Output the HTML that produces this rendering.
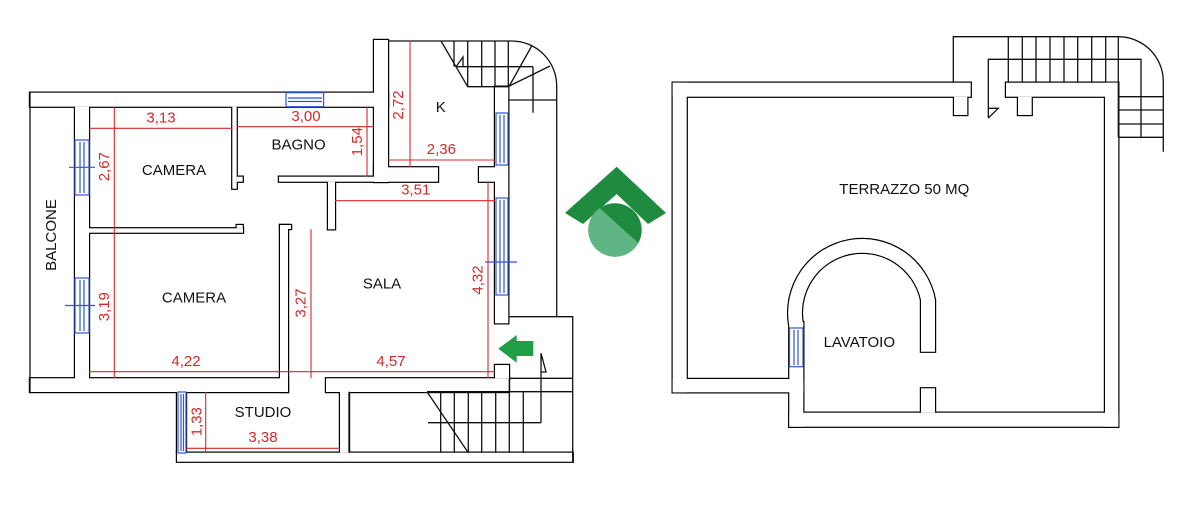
<!DOCTYPE html>
<html><head><meta charset="utf-8"><style>
html,body{margin:0;padding:0;background:#fff;}
svg{display:block;}
text{font-family:"Liberation Sans",Arial,sans-serif;}
.lb{font-size:15px;fill:#111;}
.rd{font-size:15px;fill:#d42a2a;}
</style></head><body>
<svg width="1200" height="516" viewBox="0 0 1200 516" xmlns="http://www.w3.org/2000/svg">
<defs>
<clipPath id="cc"><circle cx="615" cy="230" r="26.7"/></clipPath>
<g id="w">
<rect x="30" y="92.7" width="358" height="14"/>
<rect x="374" y="40" width="14" height="142"/>
<rect x="374" y="167.3" width="64" height="14.4"/>
<rect x="279" y="176.7" width="95" height="5"/>
<rect x="75" y="106.7" width="14" height="272"/>
<rect x="30" y="378.3" width="258" height="13.7"/>
<rect x="232.3" y="106.7" width="4.4" height="82"/>
<rect x="236.7" y="176.7" width="6" height="5"/>
<rect x="89" y="228.3" width="154" height="4.4"/>
<rect x="236.7" y="225" width="6" height="3.3"/>
<rect x="328" y="181.7" width="7" height="47.6"/>
<rect x="280" y="225" width="8" height="167"/>
<rect x="280" y="225" width="11" height="4"/>
<rect x="495" y="86.7" width="13.3" height="236.6"/>
<rect x="479" y="167.3" width="16" height="14.4"/>
<rect x="495" y="365" width="14" height="13.3"/>
<rect x="326" y="378.3" width="183" height="13.7"/>
<rect x="177" y="392" width="9" height="61"/>
<rect x="177" y="452.7" width="395.7" height="9"/>
<rect x="340" y="392" width="9" height="60.7"/>
<rect x="672.7" y="82.7" width="298" height="14"/>
<rect x="954" y="96.7" width="13.3" height="18.3"/>
<rect x="1006" y="82.7" width="112.3" height="14"/>
<rect x="1018" y="96.7" width="13.7" height="18.3"/>
<rect x="1105" y="82.7" width="13.3" height="344"/>
<rect x="789.3" y="412.7" width="329" height="14"/>
<rect x="672.7" y="82.7" width="14" height="309.6"/>
<rect x="672.7" y="379" width="130.6" height="13.3"/>
<rect x="789.3" y="322" width="14" height="104.7"/>
<rect x="921" y="388.3" width="14" height="24.4"/>
<path d="M789.3,326 A73,73 0 0 1 935,300 V351.7 H921 V300 A59,59 0 0 0 803.3,326 Z"/>
</g>
</defs>
<use href="#w" fill="#000" stroke="#000" stroke-width="2.4"/>
<use href="#w" fill="#fff" stroke="none"/>

<g stroke="#111" stroke-width="1.3" fill="none">
<line x1="30" y1="92.7" x2="30" y2="392"/>
<path d="M388,41 H511.7 A45,45 0 0 1 556.7,86 V316.7 H572.7 V461.7"/>
<line x1="509" y1="316.7" x2="556.7" y2="316.7"/>
<line x1="441" y1="41" x2="467.7" y2="86.7"/>
<line x1="454" y1="41" x2="454" y2="66.7"/>
<line x1="467.7" y1="41" x2="467.7" y2="86.7"/>
<line x1="481.7" y1="41" x2="481.7" y2="86.7"/>
<line x1="495" y1="41" x2="495" y2="86.7"/>
<line x1="508.3" y1="41" x2="508.3" y2="86.7"/>
<line x1="467.7" y1="86.7" x2="508.3" y2="86.7"/>
<line x1="456" y1="66.7" x2="533" y2="66.7"/>
<line x1="533" y1="66.7" x2="533" y2="112.7"/>
<line x1="509.3" y1="86" x2="531.7" y2="46"/>
<line x1="509.3" y1="86" x2="550" y2="66"/>
<line x1="508.3" y1="100" x2="556.7" y2="100"/>
<path d="M456,66.7 L463,57 V66"/>
<line x1="509" y1="378.3" x2="572.7" y2="378.3"/>
<line x1="427" y1="391.7" x2="572.7" y2="391.7"/>
<line x1="349" y1="391.7" x2="349" y2="452.7"/>
<line x1="427" y1="391.7" x2="468.3" y2="452.7"/>
<line x1="440.7" y1="391.7" x2="440.7" y2="452.7"/>
<line x1="454.3" y1="391.7" x2="454.3" y2="452.7"/>
<line x1="468.3" y1="391.7" x2="468.3" y2="452.7"/>
<line x1="481.7" y1="391.7" x2="481.7" y2="452.7"/>
<line x1="495.7" y1="391.7" x2="495.7" y2="452.7"/>
<line x1="509.3" y1="378.3" x2="509.3" y2="452.7"/>
<line x1="523.3" y1="391.7" x2="523.3" y2="452.7"/>
<line x1="428" y1="422.7" x2="541" y2="422.7"/>
<path d="M541,422.7 V353.3 L546,372 H541"/>
<path d="M953.3,82.7 V36.7 H1118.3 A45,45 0 0 1 1163.3,80 V151.7"/>
<path d="M988.3,118 V59.3 H1141 V138.3"/>
<path d="M988.3,118 L998.3,108.3 H989"/>
<line x1="1118.3" y1="36.7" x2="1118.3" y2="137.3"/>
<line x1="1118.3" y1="96.7" x2="1163.3" y2="96.7"/>
<line x1="1118.3" y1="110" x2="1163.3" y2="110"/>
<line x1="1118.3" y1="124" x2="1163.3" y2="124"/>
<line x1="1118.3" y1="137.3" x2="1163.3" y2="137.3"/>
<line x1="1008.3" y1="36.7" x2="1008.3" y2="82.7"/>
<line x1="1022.3" y1="36.7" x2="1022.3" y2="82.7"/>
<line x1="1036" y1="36.7" x2="1036" y2="82.7"/>
<line x1="1050" y1="36.7" x2="1050" y2="82.7"/>
<line x1="1064" y1="36.7" x2="1064" y2="82.7"/>
<line x1="1077.7" y1="36.7" x2="1077.7" y2="82.7"/>
<line x1="1091.7" y1="36.7" x2="1091.7" y2="82.7"/>
<line x1="1105.7" y1="36.7" x2="1105.7" y2="82.7"/>
</g>

<g stroke="#2e55d6" stroke-width="1.2" fill="#fff">
<rect x="286" y="92.7" width="37.6" height="14"/>
<line x1="288" y1="98" x2="322" y2="98"/><line x1="288" y1="101.5" x2="322" y2="101.5"/>
<rect x="75" y="140" width="14" height="55"/>
<line x1="80" y1="142" x2="80" y2="193"/><line x1="84" y1="142" x2="84" y2="193"/>
<line x1="69" y1="167.3" x2="95" y2="167.3"/>
<rect x="75" y="278" width="14" height="55"/>
<line x1="80" y1="280" x2="80" y2="331"/><line x1="84" y1="280" x2="84" y2="331"/>
<line x1="65" y1="305.5" x2="95" y2="305.5"/>
<rect x="496" y="113" width="12" height="52"/>
<line x1="500" y1="115" x2="500" y2="163"/><line x1="504" y1="115" x2="504" y2="163"/>
<rect x="496" y="198" width="12" height="97"/>
<line x1="500" y1="200" x2="500" y2="293"/><line x1="504" y1="200" x2="504" y2="293"/>
<line x1="485" y1="262" x2="517" y2="262"/>
<rect x="178" y="392" width="8" height="61"/>
<line x1="181" y1="394" x2="181" y2="451"/><line x1="183.5" y1="394" x2="183.5" y2="451"/>
<rect x="789.5" y="328" width="13.5" height="38.7"/>
<line x1="794" y1="330" x2="794" y2="365"/><line x1="798" y1="330" x2="798" y2="365"/>
</g>

<g stroke="#d42a2a" stroke-width="1.1">
<line x1="89" y1="128.3" x2="232.3" y2="128.3"/>
<line x1="236.7" y1="126.7" x2="374" y2="126.7"/>
<line x1="114.3" y1="106.7" x2="114.3" y2="378.3"/>
<line x1="367" y1="106.7" x2="367" y2="176.7"/>
<line x1="410" y1="40.7" x2="410" y2="167.3"/>
<line x1="388" y1="160" x2="495" y2="160"/>
<line x1="335" y1="200.7" x2="495" y2="200.7"/>
<line x1="488" y1="181.7" x2="488" y2="378.3"/>
<line x1="311" y1="229.3" x2="311" y2="378.3"/>
<line x1="89" y1="371.7" x2="495" y2="371.7"/>
<line x1="205.7" y1="392" x2="205.7" y2="452.7"/>
<line x1="186" y1="448.3" x2="340" y2="448.3"/>
</g>
<g class="rd" text-anchor="middle" dominant-baseline="central">
<text x="161" y="118">3,13</text>
<text x="306" y="116.7">3,00</text>
<text transform="translate(104.6,166.7) rotate(-90)">2,67</text>
<text transform="translate(104.6,306.7) rotate(-90)">3,19</text>
<text transform="translate(357.5,141.7) rotate(-90)">1,54</text>
<text transform="translate(398.6,105) rotate(-90)">2,72</text>
<text x="441.4" y="149.3">2,36</text>
<text x="415.7" y="190">3,51</text>
<text transform="translate(478,280) rotate(-90)">4,32</text>
<text transform="translate(301,303) rotate(-90)">3,27</text>
<text x="186" y="361.7">4,22</text>
<text x="391" y="361.7">4,57</text>
<text transform="translate(196.8,421.7) rotate(-90)">1,33</text>
<text x="263" y="437.3">3,38</text>
</g>
<g class="lb" text-anchor="middle" dominant-baseline="central">
<text transform="translate(51.4,235) rotate(-90)">BALCONE</text>
<text x="174" y="170.7">CAMERA</text>
<text x="298.6" y="145">BAGNO</text>
<text x="440.7" y="107.3">K</text>
<text x="194" y="298">CAMERA</text>
<text x="382" y="284">SALA</text>
<text x="263" y="412.3">STUDIO</text>
<text x="904.3" y="189.3">TERRAZZO 50 MQ</text>
<text x="859.3" y="342.7">LAVATOIO</text>
</g>

<polygon points="498.3,348.7 516.7,335 516.7,341 533.3,341 533.3,356 516.7,356 516.7,362.7" fill="#1f9e45"/>

<polygon points="565,213 616.7,166.7 666,213 648,224 616.7,194 583,224" fill="#1e8b3e"/>
<circle cx="615" cy="230" r="26.7" fill="#1e8b3e"/>
<polygon points="560,200 590.7,200 657,260 560,260" fill="#5fb684" clip-path="url(#cc)"/>
</svg>
</body></html>
